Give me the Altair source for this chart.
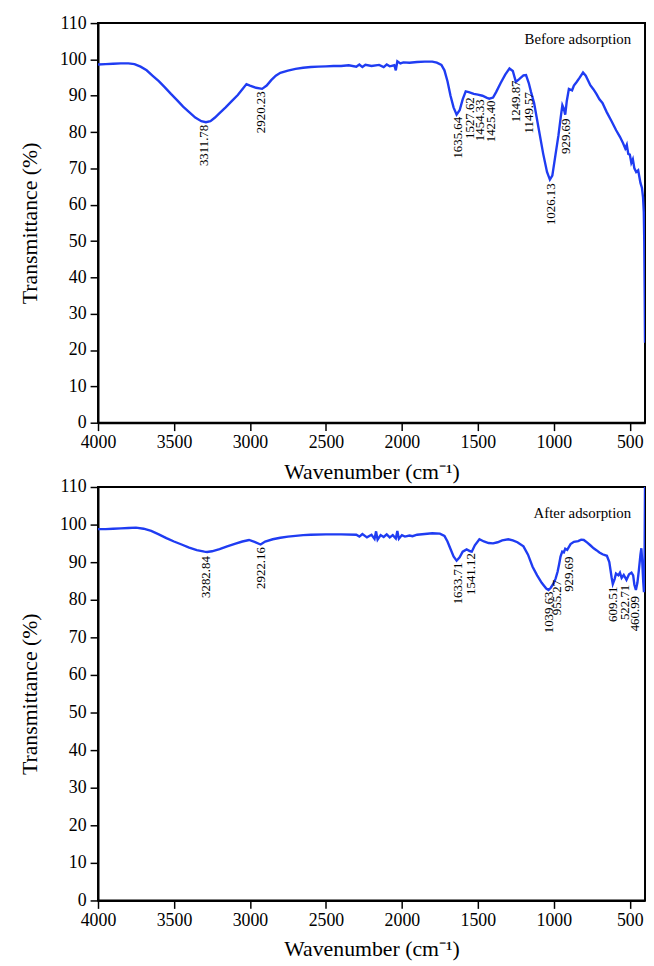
import altair as alt
import pandas as pd

# ---------------- data ----------------
wn_before = [4000, 3950, 3900, 3850, 3800, 3760, 3720, 3680, 3640, 3600, 3560, 3520, 3480, 3440, 3400,
             3360, 3320, 3290, 3260, 3230, 3200, 3160, 3120, 3080, 3050, 3023, 3000, 2960, 2920, 2890,
             2860, 2830, 2800, 2750, 2700, 2650, 2600, 2550, 2500, 2450, 2400, 2350, 2300, 2280, 2260,
             2240, 2200, 2150, 2120, 2100, 2080, 2050, 2040, 2030, 2010, 1990, 1950, 1900, 1850, 1800,
             1770, 1740, 1720, 1700, 1680, 1660, 1640, 1620, 1600, 1580, 1560, 1527, 1500, 1470, 1440,
             1425, 1400, 1380, 1350, 1320, 1292, 1270, 1250, 1230, 1200, 1183, 1165, 1150, 1130, 1100,
             1070, 1045, 1026, 1010, 990, 970, 955, 944, 935, 925, 915, 901, 880, 868, 850,
             830, 808, 790, 770, 760, 740, 720, 700, 680, 652, 620, 590, 565, 545, 530,
             520, 510, 500, 490, 480, 470, 458, 445, 430, 420, 413, 408, 405, 402, 400]
t_before = [98.6, 98.7, 98.8, 98.9, 98.9, 98.7, 98.0, 97.0, 95.5, 94.0, 92.3, 90.5, 88.8, 87.0, 85.5,
            84.0, 83.0, 82.7, 83.0, 84.0, 85.2, 86.8, 88.5, 90.2, 91.8, 93.2, 92.8, 92.2, 91.9, 92.8,
            94.3, 95.5, 96.3, 96.9, 97.4, 97.7, 97.9, 98.0, 98.1, 98.2, 98.2, 98.4, 98.0, 98.6, 97.9,
            98.5, 98.2, 98.5, 97.9, 98.6, 98.1, 98.4, 97.0, 99.5, 98.9, 99.2, 99.1, 99.3, 99.4, 99.4,
            99.1, 98.5, 97.0, 94.0, 90.0, 86.8, 84.8, 86.0, 89.0, 91.2, 91.0, 90.5, 90.3, 90.0, 89.4,
            89.2, 89.5, 91.0, 93.5, 95.8, 97.5, 96.8, 93.8, 94.5, 95.6, 95.7, 93.5, 91.0, 88.0, 81.0,
            74.0, 69.0, 66.9, 68.0, 73.5, 79.0, 84.0, 87.4, 86.5, 84.8, 88.5, 91.9, 91.5, 92.8, 93.8,
            95.0, 96.4, 95.5, 93.8, 92.9, 91.8, 90.5, 89.0, 88.0, 85.5, 83.0, 80.5, 78.7, 77.0, 75.5,
            76.5, 74.0, 73.8, 71.5, 72.5, 70.0, 69.0, 69.5, 66.0, 64.6, 62.0, 58.0, 50.0, 35.0, 22.0]

wn_after = [4000, 3950, 3900, 3850, 3800, 3750, 3700, 3650, 3600, 3550, 3500, 3450, 3400, 3350, 3300,
            3282, 3250, 3200, 3150, 3100, 3050, 3006, 2970, 2930, 2900, 2850, 2800, 2750, 2700, 2650,
            2600, 2500, 2400, 2300, 2280, 2260, 2230, 2200, 2180, 2170, 2160, 2140, 2120, 2100, 2080,
            2060, 2040, 2030, 2020, 2000, 1980, 1950, 1930, 1900, 1850, 1800, 1750, 1720, 1700, 1680,
            1660, 1640, 1620, 1600, 1574, 1550, 1540, 1520, 1490, 1460, 1430, 1400, 1370, 1340, 1300,
            1270, 1240, 1200, 1170, 1140, 1110, 1080, 1050, 1035, 1020, 1000, 988, 975, 965, 956,
            945, 934, 925, 912, 890, 868, 840, 820, 803, 780, 760, 738, 720, 700, 680,
            651, 635, 620, 612, 600, 591, 575, 565, 554, 540, 522, 505, 489, 478, 470,
            460, 450, 440, 430, 424, 418, 412, 407, 403, 400]
t_after = [98.8, 98.8, 98.9, 99.0, 99.1, 99.2, 98.9, 98.3, 97.4, 96.4, 95.5, 94.7, 93.9, 93.2, 92.8,
           92.7, 92.9, 93.5, 94.2, 94.9, 95.5, 95.9, 95.4, 94.7, 95.5, 96.1, 96.5, 96.8, 97.0, 97.2,
           97.3, 97.4, 97.4, 97.3, 96.8, 97.5, 96.6, 97.3, 96.2, 98.2, 96.0, 97.2, 96.7, 97.4, 96.6,
           97.2, 96.3, 98.3, 96.2, 97.2, 96.8, 97.1, 96.9, 97.3, 97.5, 97.7, 97.6, 97.0, 95.5, 93.5,
           91.5, 90.4, 91.3, 92.8, 93.4, 92.9, 92.8, 94.5, 96.1, 95.5, 95.1, 95.0, 95.3, 95.8, 96.1,
           95.8, 95.3, 94.2, 92.0, 88.8, 86.5, 84.5, 83.0, 82.6, 83.2, 84.5, 85.7, 87.5, 89.5, 91.5,
           92.8, 92.6, 93.6, 93.3, 94.8, 95.4, 95.6, 96.0, 95.9, 95.2, 94.5, 93.7, 93.2, 92.6, 92.1,
           91.7, 90.0, 86.0, 84.2, 85.5, 87.0, 86.5, 87.2, 85.8, 86.6, 85.3, 86.8, 87.2, 86.5, 84.0,
           82.6, 84.5, 88.0, 92.0, 93.7, 90.0, 85.0, 82.0, 90.0, 110.0]

# peak labels: text, label position (wavenumber, transmittance at top of text)
lab_before = ["3311.78", "2920.23", "1635.64", "1527.62", "1454.33", "1425.40",
              "1249.87", "1149.57", "1026.13", "929.69"]
lab_before_x = [3300, 2925, 1628, 1552, 1487, 1411, 1248, 1161, 1020, 922]
lab_before_y = [82.0, 91.2, 84.2, 89.6, 89.0, 88.7, 94.2, 91.0, 65.9, 83.7]

lab_after = ["3282.84", "2922.16", "1633.71", "1541.12", "1039.63", "955.27",
             "929.69", "609.51", "522.71", "460.99"]
lab_after_x = [3288, 2930, 1633, 1542, 1031, 977, 901, 608, 532, 467]
lab_after_y = [91.6, 94.0, 89.9, 92.4, 82.2, 85.3, 91.5, 83.5, 84.0, 81.0]

panel_titles = ["Before adsorption", "After adsorption"]
title_x = [491, 491]
title_y = [105.5, 103.2]

x_ticks = [4000, 3500, 3000, 2500, 2000, 1500, 1000, 500]
y_ticks = [0, 10, 20, 30, 40, 50, 60, 70, 80, 90, 100, 110]

# ---------------- chart ----------------
FONT = "Liberation Serif"
BLUE = "#1f3cf2"
W = 553


def panel(wn, t, labs, lx, ly, title, tx, ty, h):
    df = pd.DataFrame({"wn": wn, "t": t})
    dl = pd.DataFrame({"lab": labs, "wn": lx, "t": ly})
    dt = pd.DataFrame({"lab": [title], "wn": [tx], "t": [ty]})
    xs = alt.Scale(domain=[400, 4000], reverse=True, nice=False, zero=False)
    ys = alt.Scale(domain=[0, 110], nice=False, zero=True)
    x = alt.X("wn:Q", scale=xs,
              axis=alt.Axis(values=x_ticks, title="Wavenumber (cm⁻¹)", format="d",
                            labelPadding=3, titlePadding=10, labelOverlap=False,
                            labelFlush=False))
    y = alt.Y("t:Q", scale=ys,
              axis=alt.Axis(values=y_ticks, title="Transmittance (%)",
                            labelPadding=4, titlePadding=18, labelOverlap=False,
                            labelFlush=False))
    line = alt.Chart(df).mark_line(color=BLUE, strokeWidth=2.4, clip=True).encode(
        x=x, y=y, order=alt.Order("wn:Q", sort="descending"))
    txt = alt.Chart(dl).mark_text(angle=270, align="right", baseline="middle",
                                  font=FONT, fontSize=13, color="black").encode(
        x=x, y=y, text="lab:N")
    ttl = alt.Chart(dt).mark_text(align="right", baseline="middle",
                                  font=FONT, fontSize=15, color="black").encode(
        x=x, y=y, text="lab:N")
    return alt.layer(line, txt, ttl).properties(width=W, height=h)


top = panel(wn_before, t_before, lab_before, lab_before_x, lab_before_y,
            panel_titles[0], title_x[0], title_y[0], 404)
bottom = panel(wn_after, t_after, lab_after, lab_after_x, lab_after_y,
               panel_titles[1], title_x[1], title_y[1], 418)

chart = alt.vconcat(top, bottom, spacing=65, bounds="flush").properties(
    padding={"left": 10, "top": 0, "right": 0, "bottom": 0}
).configure_view(stroke="black", strokeWidth=2).configure_axis(
    labelFont=FONT, labelFontSize=18, labelColor="black",
    titleFont=FONT, titleFontSize=22, titleFontWeight="normal", titleColor="black",
    tickColor="black", tickSize=8, tickWidth=1.5,
    domainColor="black", domainWidth=2, grid=False
)

chart.save("out.html", embed_options={"renderer": "svg", "actions": False})
